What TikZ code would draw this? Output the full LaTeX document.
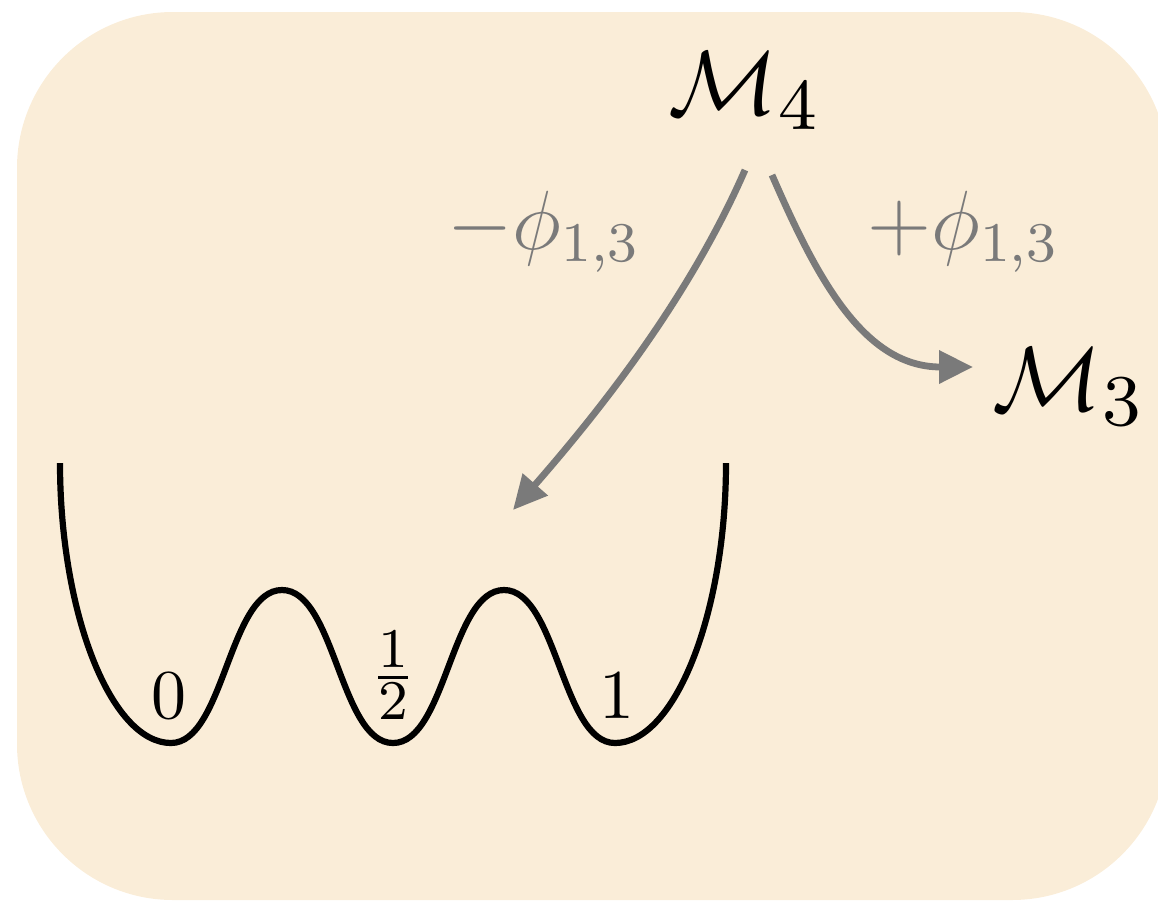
\documentclass[tikz,border=0pt]{standalone}
\usetikzlibrary{arrows.meta}
\DeclareMathSizes{10}{10}{8}{6}
\DeclareMathSizes{12}{12}{8}{6}
\definecolor{bgbeige}{RGB}{250,237,216}
\definecolor{arrowgray}{RGB}{122,122,122}
\begin{document}
\begin{tikzpicture}[x=0.5pt,y=-0.5pt,
  bigmath/.style={font=\fontsize{10}{12}\selectfont, inner sep=0pt, scale=4.55},
  lbl/.style={font=\fontsize{12}{14}\selectfont, inner sep=0pt, scale=3.5, text=arrowgray},
  dig/.style={font=\fontsize{10}{12}\selectfont, inner sep=0pt, scale=3.5},
  garrow/.style={draw=arrowgray, line width=3.4pt, -{Triangle[length=17pt,width=16pt]}},
  pot/.style={draw=black, line width=3.1pt}]
\useasboundingbox (0,0) rectangle (1158,901);
\fill[bgbeige, rounded corners=78pt] (17,12) rectangle (1168,900);
% nodes
\node[bigmath, anchor=base west] (M4) at (667,114) {$\mathcal{M}_4$};
\node[bigmath, anchor=base west] (M3) at (991,410) {$\mathcal{M}_3$};
\node[lbl, anchor=base west] (lminus) at (446,249) {$-\phi_{1,3}$};
\node[lbl, anchor=base west] (lplus) at (866,249) {$+\phi_{1,3}$};
\node[dig, anchor=base] (d0) at (169,718) {$0$};
\node[dig, anchor=base] (dhalf) at (393,695) {$\frac{1}{2}$};
\node[dig, anchor=base] (d1) at (617,718) {$1$};
% arrows
\coordinate (s1) at (745,170);
\coordinate (t1) at (513,510);
\coordinate (s2) at (772,175);
\coordinate (t2) at (973,367);
\draw[garrow] (s1) .. controls (690,296) and (603,407) .. (t1);
\draw[garrow] (s2) .. controls (816,276) and (863,367) .. (t2);
% potential
\draw[pot] (60,463) .. controls (60,613) and (111,743) .. (171,743)
  .. controls (224,743) and (229,590) .. (282,590)
  .. controls (335,590) and (340,743) .. (393,743)
  .. controls (446,743) and (451,590) .. (504,590)
  .. controls (557,590) and (562,743) .. (615,743)
  .. controls (675,743) and (726,613) .. (726,463);
\end{tikzpicture}
\end{document}
